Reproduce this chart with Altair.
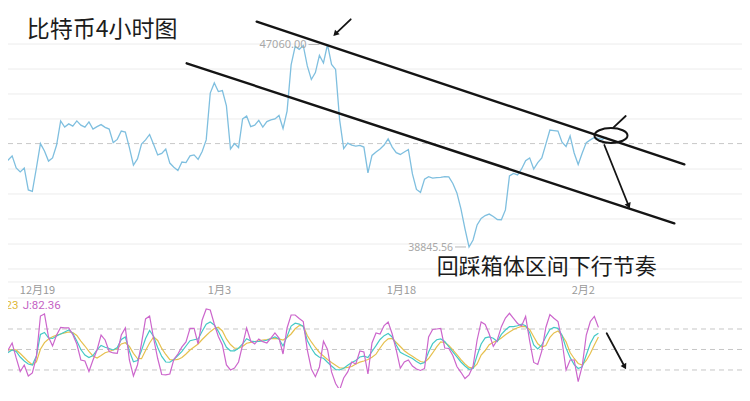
import altair as alt
import pandas as pd

# ---------------- data ----------------
# BTC 4h chart, sampled every 8 hours starting 2021-12-15 21:48
price_start = "2021-12-15 21:48"
price = [42100, 42310, 42370, 42540, 42050, 41890, 42050, 41160, 41100, 42050,
         43040, 42740, 42330, 42460, 42980, 43960, 43710, 43840, 43750, 43960,
         43790, 43710, 43920, 43630, 43730, 43810, 43700, 43630, 43080, 43210,
         43550, 43510, 42880, 42170, 42420, 43020, 43190, 43410, 43000, 42580,
         42640, 42820, 42250, 42080, 41950, 42290, 42270, 42540, 42580, 42400,
         42720, 43190, 45090, 45500, 45150, 45190, 44570, 42820, 43040, 42880,
         44040, 44160, 43730, 43790, 43980, 43710, 43930, 44000, 44040, 44180,
         43650, 44360, 46230, 46980, 46860, 47020, 46190, 45640, 45920, 46620,
         46310, 47060, 46250, 46050, 44000, 42840, 43060, 42980, 42940, 42970,
         42900, 41850, 42560, 42700, 42820, 42980, 43230, 42900, 42670, 42600,
         42700, 42800, 41810, 41180, 41060, 41600, 41700, 41640, 41660, 41670,
         41700, 41690, 41420, 41040, 40390, 39580, 38845.56, 39130, 39740, 40000,
         40120, 40180, 40080, 39960, 39950, 40350, 41730, 41830, 41770, 42010,
         42350, 42460, 42010, 42270, 42460, 43020, 43590, 43570, 43550, 43100,
         42920, 43350, 42660, 42190, 42660, 43080, 43190, 43290, 43250, 43210,
         43300]

k_vals = [44.4, 40.5, 45.6, 49.3, 47.1, 39.0, 33.2, 28.8, 27.3, 40.5,
          72.0, 74.9, 66.8, 66.1, 69.8, 72.7, 75.6, 78.5, 73.4, 62.4,
          50.0, 41.9, 38.3, 41.2, 49.3, 55.9, 53.2, 51.5, 49.3, 52.9,
          64.6, 68.3, 47.8, 32.1, 33.9, 48.5, 66.1, 77.8, 69.0, 52.9,
          39.8, 31.7, 31.3, 35.4, 41.2, 47.1, 55.1, 62.9, 64.2, 65.4,
          76.8, 86.9, 90.3, 85.9, 76.6, 64.9, 53.2, 48.1, 48.1, 51.8,
          58.1, 65.8, 62.4, 61.4, 61.7, 62.4, 63.5, 66.1, 68.3, 65.4,
          55.1, 69.2, 84.3, 88.4, 87.2, 83.7, 63.2, 51.8, 43.0, 38.6,
          37.1, 31.3, 25.8, 20.7, 20.0, 22.5, 26.9, 31.0, 33.9, 39.0,
          40.2, 38.3, 47.1, 55.6, 64.6, 70.3, 73.4, 68.3, 56.6, 45.9,
          42.7, 39.8, 36.7, 32.3, 29.1, 30.8, 46.3, 58.5, 64.3, 65.5,
          61.7, 54.0, 46.6, 39.2, 31.7, 25.8, 21.0, 22.2, 41.2, 58.1,
          67.1, 68.4, 66.5, 61.7, 72.0, 78.5, 83.4, 83.4, 84.7, 87.0,
          84.7, 74.6, 56.6, 50.7, 56.6, 68.6, 79.4, 82.4, 81.0, 70.8,
          52.0, 38.4, 28.0, 22.2, 24.8, 41.9, 58.8, 69.8, 73.7]

d_vals = [61.4, 51.6, 49.3, 49.3, 49.3, 44.1, 38.3, 32.3, 27.6, 31.7,
          50.3, 60.0, 65.4, 68.7, 71.2, 72.7, 74.2, 75.6, 74.9, 70.5,
          62.4, 55.1, 47.1, 40.5, 37.6, 41.2, 45.2, 47.1, 49.3, 51.2,
          58.1, 59.8, 54.4, 44.4, 36.8, 36.5, 48.5, 59.5, 68.3, 63.2,
          51.5, 42.7, 35.1, 34.6, 35.4, 38.3, 43.4, 49.3, 53.7, 58.1,
          64.6, 70.5, 76.1, 80.7, 82.6, 77.1, 65.4, 57.3, 51.8, 51.8,
          54.4, 59.1, 60.5, 61.7, 62.7, 63.9, 64.6, 65.7, 66.3, 65.4,
          63.9, 67.6, 72.7, 80.3, 85.1, 84.4, 70.5, 61.0, 52.9, 45.6,
          40.5, 35.4, 30.8, 27.0, 22.9, 22.9, 23.8, 25.0, 28.8, 31.4,
          33.2, 35.4, 38.7, 43.1, 52.2, 60.5, 65.5, 66.1, 60.2, 54.4,
          48.2, 43.9, 40.0, 36.1, 32.4, 31.0, 36.8, 44.9, 53.7, 61.0,
          60.2, 55.9, 49.3, 42.4, 35.1, 28.8, 23.8, 22.9, 28.8, 41.9,
          48.5, 57.0, 60.7, 63.0, 66.8, 71.5, 75.6, 79.3, 81.8, 83.7,
          83.4, 79.3, 68.6, 58.3, 53.7, 55.9, 67.6, 74.2, 77.1, 70.5,
          61.4, 45.6, 36.8, 29.5, 27.3, 33.9, 44.1, 56.6, 68.23]

j_vals = [27.3, 27.3, 49.3, 59.5, 37.6, 17.8, 27.3, 11.2, 15.6, 39.0,
          99.0, 102.0, 68.3, 55.1, 71.2, 82.2, 81.5, 81.5, 72.0, 58.0,
          34.6, 33.2, 17.8, 34.6, 49.3, 71.2, 63.9, 47.1, 44.9, 44.4,
          71.2, 81.5, 34.6, 11.2, 27.3, 58.8, 94.7, 99.0, 66.1, 36.8,
          13.4, 12.7, 14.1, 35.4, 43.4, 53.7, 61.0, 81.0, 81.0, 58.0,
          93.2, 109.3, 107.8, 87.3, 69.0, 56.6, 27.3, 20.0, 22.9, 31.7,
          56.6, 81.5, 62.4, 58.0, 65.4, 61.4, 59.5, 66.8, 74.2, 66.8,
          43.4, 81.5, 100.5, 100.5, 95.4, 91.0, 49.3, 21.5, 10.2, 24.4,
          62.0, 50.0, 17.1, 0.2, -9.3, 8.3, 17.1, 31.7, 28.8, 47.8,
          46.3, 14.1, 59.5, 74.2, 72.7, 85.1, 90.3, 72.7, 49.3, 22.5,
          31.7, 34.6, 25.8, 21.5, 19.3, 22.2, 68.3, 79.3, 80.0, 80.7,
          52.2, 51.5, 41.2, 25.1, 16.6, 7.5, 12.7, 25.8, 63.9, 90.3,
          86.6, 72.7, 54.5, 63.9, 83.4, 96.1, 103.0, 95.4, 88.1, 84.4,
          98.3, 62.4, 31.0, 28.0, 47.8, 82.2, 101.2, 95.7, 91.0, 62.4,
          20.0, 34.6, 34.6, 2.9, 25.8, 71.2, 91.0, 98.3, 82.36]

tick_dates = [(2021, 12, 19), (2022, 1, 3), (2022, 1, 18), (2022, 2, 2)]
tick_label_price = 37059          # level of the date row between the two panels
price_grid = [47080, 46066, 45052, 44038, 42009, 40995, 39981, 38966, 37952, 37425, 36775]
kdj_levels = [20, 50, 80]
current_price = [43040]

title_text = "比特币4小时图"
note_text = "回踩箱体区间下行节奏"

# hand-drawn annotations, in (time, price) coordinates
seg_t1 = ["2022-01-06T01:42:00", "2021-12-31T07:12:00", "2022-01-13T19:42:00",
          "2022-02-04T11:18:00", "2022-02-03T17:30:00"]
seg_p1 = [47985, 46297, 48082, 43685, 42983]
seg_t2 = ["2022-02-10T07:48:00", "2022-02-09T12:00:00", "2022-01-12T14:36:00",
          "2022-02-05T11:48:00", "2022-02-05T17:00:00"]
seg_p2 = [42200, 39806, 47514, 44159, 40549]
seg_w = [2.4, 2.4, 1.8, 1.8, 1.8]
head_t = ["2022-01-12T14:36:00", "2022-02-05T17:00:00"]
head_p = [47514, 40549]
head_a = [225, 158]
ellipse_t = ["2022-02-04T06:42:00"]
ellipse_p = [43368]
kseg_t1 = ["2022-02-03T22:12:00"]
kseg_v1 = [73.7]
kseg_t2 = ["2022-02-05T09:00:00"]
kseg_v2 = [25.8]
khead_a = [152]

title_t, title_p = ["2021-12-18T02:38:00"], [47648]
note_t, note_p = ["2022-01-20T21:54:00"], [38040]
leg_d_t, leg_j_t, leg_v = ["2021-12-17T10:24:00"], ["2021-12-17T18:42:00"], [113.7]

# ---------------- frames ----------------
p_dates = pd.date_range(price_start, periods=len(price), freq="8h")
price_df = pd.DataFrame({"t": p_dates.strftime("%Y-%m-%dT%H:%M:%S"), "p": price})
k_dates = p_dates[: len(k_vals)].strftime("%Y-%m-%dT%H:%M:%S")
k_df = pd.DataFrame({"t": k_dates, "v": k_vals})
d_df = pd.DataFrame({"t": k_dates, "v": d_vals})
j_df = pd.DataFrame({"t": k_dates, "v": j_vals})

imax = int(price_df["p"].idxmax())
imin = int(price_df["p"].idxmin())
hi_df = price_df.iloc[[imax]].assign(s=lambda d: d["p"].map(lambda v: f"{v:.2f}"))
lo_df = price_df.iloc[[imin]].assign(s=lambda d: d["p"].map(lambda v: f"{v:.2f}"))

tick_df = pd.DataFrame({
    "t": [f"{y:04d}-{m:02d}-{d:02d}T00:00:00" for y, m, d in tick_dates],
    "p": [tick_label_price] * len(tick_dates),
    "s": [f"{m}月{d}" for y, m, d in tick_dates],
})
pgrid_df = pd.DataFrame({"p": price_grid})
kgrid_df = pd.DataFrame({"v": kdj_levels})
seg_df = pd.DataFrame({"t1": seg_t1, "p1": seg_p1, "t2": seg_t2, "p2": seg_p2, "w": seg_w})
head_df = pd.DataFrame({"t": head_t, "p": head_p, "a": head_a})
ell_df = pd.DataFrame({"t": ellipse_t, "p": ellipse_p})
kseg_df = pd.DataFrame({"t1": kseg_t1, "v1": kseg_v1, "t2": kseg_t2, "v2": kseg_v2})
khead_df = pd.DataFrame({"t": kseg_t2, "v": kseg_v2, "a": khead_a})
cur_df = pd.DataFrame({"p": current_price})
title_df = pd.DataFrame({"t": title_t, "p": title_p, "s": [title_text]})
note_df = pd.DataFrame({"t": note_t, "p": note_p, "s": [note_text]})
legd_df = pd.DataFrame({"t": leg_d_t, "v": leg_v, "s": [f"D:{d_vals[-1]:.2f}"]})
legj_df = pd.DataFrame({"t": leg_j_t, "v": leg_v, "s": [f"J:{j_vals[-1]:.2f}"]})

# ---------------- scales ----------------
W, H = 734, 380
xscale = alt.Scale(domain=[alt.DateTime(year=2021, month=12, date=16, hours=13, minutes=38),
                           alt.DateTime(year=2022, month=2, date=15, hours=1, minutes=54)])
pscale = alt.Scale(domain=[33124, 48541], nice=False, zero=False)
kscale = alt.Scale(domain=[-6.4, 550], nice=False, zero=False)

X = lambda f: alt.X(f, type="temporal", scale=xscale, axis=None)
YP = lambda f: alt.Y(f, type="quantitative", scale=pscale, axis=None)
YK = lambda f: alt.Y(f, type="quantitative", scale=kscale, axis=None)
INK = "#141414"
CJK = "Noto Sans CJK SC"

# ---------------- price panel ----------------
pgrid = alt.Chart(pgrid_df).mark_rule(color="#ececec", strokeWidth=1).encode(y=YP("p"))
cur = alt.Chart(cur_df).mark_rule(color="#c8c8c8", strokeDash=[5, 4], strokeWidth=1).encode(y=YP("p"))
ticks = alt.Chart(tick_df).mark_text(align="center", baseline="middle", font=CJK, fontSize=11,
                                     color="#9a9a9a").encode(x=X("t"), y=YP("p"), text="s:N")
pline = alt.Chart(price_df).mark_line(color="#7fbfdf", strokeWidth=1.3, clip=True).encode(
    x=X("t"), y=YP("p"))
hi_txt = alt.Chart(hi_df).mark_text(align="right", baseline="middle", dx=-21, font="Noto Sans",
                                    fontSize=11, color="#a8a8a8").encode(x=X("t"), y=YP("p"), text="s:N")
hi_lead = alt.Chart(hi_df).mark_rule(color="#b8b8b8", strokeWidth=1, xOffset=-19, x2Offset=-8).encode(
    x=X("t"), x2="t:T", y=YP("p"))
lo_txt = alt.Chart(lo_df).mark_text(align="right", baseline="middle", dx=-16, dy=1, font="Noto Sans",
                                    fontSize=10.5, color="#a8a8a8").encode(x=X("t"), y=YP("p"), text="s:N")
lo_lead = alt.Chart(lo_df).mark_rule(color="#b8b8b8", strokeWidth=1, xOffset=-14, x2Offset=-3).encode(
    x=X("t"), x2="t:T", y=YP("p"))
segs = alt.Chart(seg_df).mark_rule(color=INK, strokeCap="round").encode(
    x=X("t1"), x2="t2:T", y=YP("p1"), y2="p2:Q", strokeWidth=alt.StrokeWidth("w:Q", scale=None))
heads = alt.Chart(head_df).mark_point(shape="triangle", filled=True, size=42, color=INK, opacity=1).encode(
    x=X("t"), y=YP("p"), angle=alt.Angle("a:Q", scale=None))
ell = alt.Chart(ell_df).mark_point(
    shape="M -1 0 A 1 0.45 0 1 0 1 0 A 1 0.45 0 1 0 -1 0 Z",
    filled=False, size=1089, color=INK, strokeWidth=2, opacity=1).encode(x=X("t"), y=YP("p"))
title = alt.Chart(title_df).mark_text(align="left", baseline="middle", font=CJK, fontSize=23,
                                      color="#1c1c1c").encode(x=X("t"), y=YP("p"), text="s:N")
note = alt.Chart(note_df).mark_text(align="left", baseline="middle", font=CJK, fontSize=22,
                                    color="#1c1c1c").encode(x=X("t"), y=YP("p"), text="s:N")

price_panel = alt.layer(pgrid, cur, ticks, pline, hi_lead, hi_txt, lo_lead, lo_txt,
                        segs, heads, ell, title, note)

# ---------------- KDJ panel ----------------
kgrid = alt.Chart(kgrid_df).mark_rule(color="#c6c6c6", strokeDash=[5, 4], strokeWidth=1).encode(y=YK("v"))
dline = alt.Chart(d_df).mark_line(color="#e6c04e", strokeWidth=1.2, clip=True).encode(x=X("t"), y=YK("v"))
kline = alt.Chart(k_df).mark_line(color="#45c9c6", strokeWidth=1.2, clip=True).encode(x=X("t"), y=YK("v"))
jline = alt.Chart(j_df).mark_line(color="#cc66cc", strokeWidth=1.2, clip=True).encode(x=X("t"), y=YK("v"))
kseg = alt.Chart(kseg_df).mark_rule(color=INK, strokeWidth=1.8, strokeCap="round").encode(
    x=X("t1"), x2="t2:T", y=YK("v1"), y2="v2:Q")
khead = alt.Chart(khead_df).mark_point(shape="triangle", filled=True, size=42, color=INK, opacity=1).encode(
    x=X("t"), y=YK("v"), angle=alt.Angle("a:Q", scale=None))
legd = alt.Chart(legd_df).mark_text(align="right", baseline="middle", font="Roboto", fontSize=11.5,
                                    color="#e0b836").encode(x=X("t"), y=YK("v"), text="s:N")
legj = alt.Chart(legj_df).mark_text(align="left", baseline="middle", font="Roboto", fontSize=11.5,
                                    color="#c462c4").encode(x=X("t"), y=YK("v"), text="s:N")

kdj_panel = alt.layer(kgrid, dline, kline, jline, kseg, khead, legd, legj)

chart = (
    alt.layer(price_panel, kdj_panel)
    .resolve_scale(y="independent")
    .properties(width=W, height=H, padding=0, autosize=alt.AutoSizeParams(type="none"),
                background="white")
    .configure_view(stroke=None)
)

chart.save("out.html", embed_options={"renderer": "svg", "actions": False})
